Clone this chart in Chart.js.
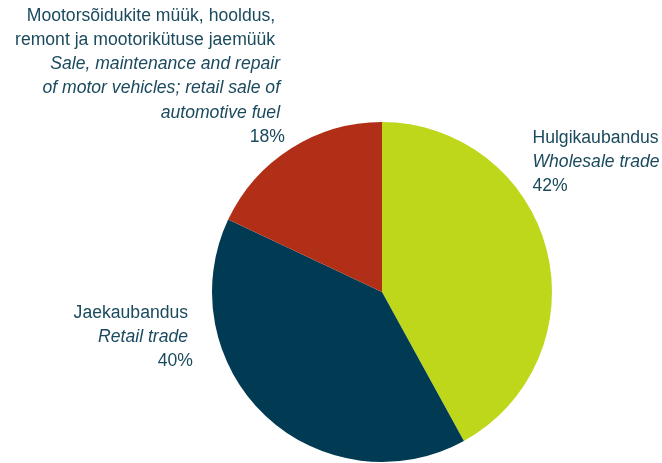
<!DOCTYPE html>
<html lang="et">
  <head>
    <meta charset="UTF-8" />
    <title>Kaubandus</title>
    <script src="https://cdn.jsdelivr.net/npm/chart.js@4.4.0/dist/chart.umd.min.js"></script>
    <style>
      html, body { margin: 0; padding: 0; background: #ffffff; }
      #wrap { width: 662px; height: 463px; position: relative; }
    </style>
  </head>
  <body>
    <div id="wrap"><canvas id="pie"></canvas></div>
    <script>
      // Andmed
      const sectorsEt = ["Hulgikaubandus", "Jaekaubandus", "Mootorsõidukite müük, hooldus, remont ja mootorikütuse jaemüük"];
      const shares = [42, 40, 18];
      const colors = ["#bfd71b", "#003a53", "#b22f17"];

      // Sildi read (eesti keel tavakirjas, inglise keel kaldkirjas)
      const labelEt = [
        ["Hulgikaubandus"],
        ["Jaekaubandus "],
        ["Mootorsõidukite müük, hooldus,  ", "remont ja mootorikütuse jaemüük  "]
      ];
      const labelEn = [
        ["Wholesale trade"],
        ["Retail trade "],
        ["Sale, maintenance and repair ", "of motor vehicles; retail sale of ", "automotive fuel "]
      ];

      // Sildi asukoht raadiuse ühikutes keskpunkti suhtes
      const labelPos = [
        { dx: 0.885, dy: -0.906, align: "left" },
        { dx: -1.112, dy: 0.124, align: "right" },
        { dx: -0.571, dy: -1.624, align: "right" }
      ];

      const textColor = "#1b4a5e";
      const fontSize = 17.6;
      const lineH = 24.2;

      const pieLabels = {
        id: "pieLabels",
        afterDatasetsDraw(chart) {
          const arc = chart.getDatasetMeta(0).data[0];
          if (!arc) return;
          const cx = arc.x, cy = arc.y, r = arc.outerRadius;
          const ctx = chart.ctx;
          ctx.save();
          ctx.fillStyle = textColor;
          ctx.textBaseline = "middle";
          shares.forEach((v, i) => {
            const p = labelPos[i];
            const x = cx + p.dx * r;
            let y = cy + p.dy * r;
            ctx.textAlign = p.align;
            const lines = [];
            labelEt[i].forEach((t) => lines.push({ t, italic: false }));
            labelEn[i].forEach((t) => lines.push({ t, italic: true }));
            lines.push({ t: v + "%", italic: false });
            lines.forEach((ln) => {
              ctx.font = (ln.italic ? "italic " : "") + fontSize + "px 'Liberation Sans', Arial, sans-serif";
              ctx.fillText(ln.t, x, y);
              y += lineH;
            });
          });
          ctx.restore();
        }
      };

      new Chart(document.getElementById("pie"), {
        type: "pie",
        data: {
          labels: sectorsEt,
          datasets: [
            {
              data: shares,
              backgroundColor: colors,
              borderWidth: 0
            }
          ]
        },
        options: {
          responsive: true,
          maintainAspectRatio: false,
          animation: false,
          layout: { padding: { left: 212, right: 110, top: 122, bottom: 1 } },
          plugins: {
            legend: { display: false },
            tooltip: { enabled: false }
          }
        },
        plugins: [pieLabels]
      });
    </script>
  </body>
</html>
